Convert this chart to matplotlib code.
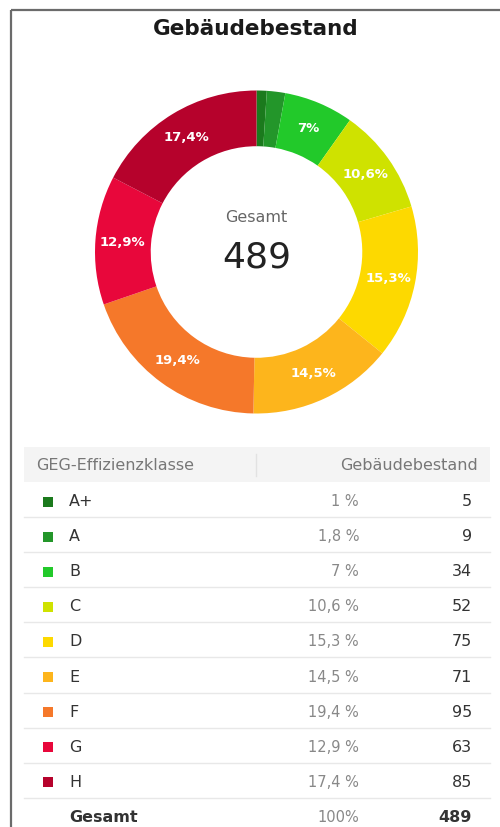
import matplotlib
matplotlib.use("Agg")
import matplotlib.pyplot as plt
from matplotlib.patches import Rectangle

plt.rcParams['font.family'] = ['DejaVu Sans']

classes = ["A+", "A", "B", "C", "D", "E", "F", "G", "H"]
counts = [5, 9, 34, 52, 75, 71, 95, 63, 85]
pct_labels = ["1 %", "1,8 %", "7 %", "10,6 %", "15,3 %", "14,5 %", "19,4 %", "12,9 %", "17,4 %"]
donut_labels = ["", "", "7%", "10,6%", "15,3%", "14,5%", "19,4%", "12,9%", "17,4%"]
colors = ["#1b7a1d", "#23962a", "#22c92a", "#cfe200", "#fdd900", "#fdb51c", "#f5782a", "#e8073b", "#b6022c"]
total_label = "489"
total_pct = "100%"
title = "Gebäudebestand"

W, H = 500, 827
fig = plt.figure(figsize=(W / 100, H / 100), dpi=100)
bg = fig.add_axes([0, 0, 1, 1])
bg.set_xlim(0, W)
bg.set_ylim(H, 0)
bg.axis("off")

# border lines
bg.plot([11, 500], [10, 10], color="#6b6b6b", lw=1.6, solid_capstyle="butt")
bg.plot([11, 11], [10, 827], color="#6b6b6b", lw=1.6, solid_capstyle="butt")

bg.text(256, 29, title, ha="center", va="center", fontsize=15.5, fontweight="bold", color="#1a1a1a")

# donut
cx, cy, R = 256.5, 252, 161.5
dax = fig.add_axes([(cx - R) / W, 1 - (cy + R) / H, 2 * R / W, 2 * R / H])
wedges, texts = dax.pie(counts, colors=colors, startangle=90, counterclock=False,
                        radius=1, labels=donut_labels, labeldistance=0.83,
                        wedgeprops=dict(width=0.345, linewidth=0),
                        textprops=dict(color="white", fontsize=9.5, fontweight="bold"))
for t in texts:
    t.set_ha("center")
    t.set_va("center")
dax.set_xlim(-1, 1)
dax.set_ylim(-1, 1)
dax.set_aspect("equal")
dax.axis("off")

bg.text(cx, 217, "Gesamt", ha="center", va="center", fontsize=11.5, color="#666666")
bg.text(cx, 257, total_label, ha="center", va="center", fontsize=26, color="#222222")

# table
x0, x1 = 24, 490
bg.add_patch(Rectangle((x0, 447), x1 - x0, 35, facecolor="#f4f4f4", edgecolor="none"))
bg.plot([256, 256], [454, 476], color="#e2e2e2", lw=1)
bg.text(36, 465, "GEG-Effizienzklasse", ha="left", va="center", fontsize=11.5, color="#777777")
bg.text(478, 465, "Gebäudebestand", ha="right", va="center", fontsize=11.5, color="#777777")

row_h = 35.1
y_first = 501.5
for i, (c, n, p, col) in enumerate(zip(classes, counts, pct_labels, colors)):
    y = y_first + i * row_h
    bg.add_patch(Rectangle((42.5, y - 5), 10, 10, facecolor=col, edgecolor="none"))
    bg.text(69, y, c, ha="left", va="center", fontsize=11.5, color="#333333")
    bg.text(359, y, p, ha="right", va="center", fontsize=10.5, color="#888888")
    bg.text(472, y, str(n), ha="right", va="center", fontsize=11.5, color="#333333")
    bg.plot([x0, x1], [y + 15.5, y + 15.5], color="#e8e8e8", lw=1)

yg = y_first + len(classes) * row_h
bg.text(69, yg, "Gesamt", ha="left", va="center", fontsize=11.5, fontweight="bold", color="#333333")
bg.text(359, yg, total_pct, ha="right", va="center", fontsize=10.5, color="#888888")
bg.text(472, yg, total_label, ha="right", va="center", fontsize=11.5, fontweight="bold", color="#333333")

fig.savefig("out.png", dpi=100)
